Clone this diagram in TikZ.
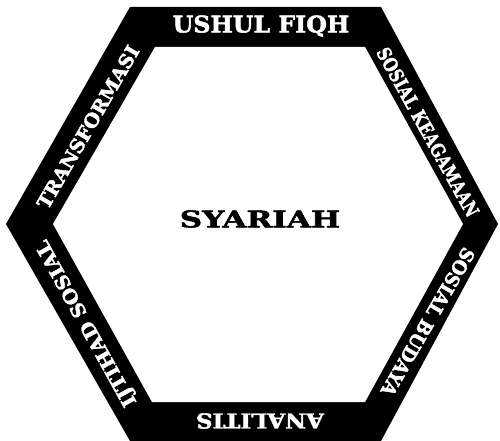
\documentclass[tikz,border=0pt]{standalone}
\usepackage{fontspec}
\newfontfamily\hexfont{DejaVu Serif Bold}[FakeBold=2]
\newfontfamily\hexcond{DejaVu Serif Condensed Bold}[FakeBold=2]
\begin{document}
\begin{tikzpicture}[x=1pt,y=-1pt,
  band/.style={font=\hexcond\fontsize{19}{19}\selectfont, text=white, inner sep=0pt, anchor=center},
  toptext/.style={font=\hexfont\fontsize{23}{23}\selectfont, text=white, inner sep=0pt, anchor=center}]
\useasboundingbox (0,0) rectangle (500,441);
\fill[white] (0,0) rectangle (500,441);
\fill[black] (130,7) -- (381,7) -- (498,224) -- (381,441) -- (130,441) -- (6,224) -- cycle;
\fill[white] (155,47) -- (365,47) -- (463,224) -- (365,402) -- (152,402) -- (53,224) -- cycle;
\node[toptext, xscale=1.03] (top) at (261,26) {USHUL FIQH};
\node[band, rotate=-61, xscale=0.91] (tr) at (428,132) {SOSIAL KEAGAMAAN};
\node[band, rotate=-120, xscale=1.05] (br) at (428,322) {SOSIAL BUDAYA};
\node[toptext, font=\hexfont\fontsize{20.5}{20.5}\selectfont, rotate=180, xscale=1.12] (bot) at (260,421) {ANALITIS};
\node[band, rotate=119, xscale=1.17] (bl) at (87,323) {IJTIHAD SOSIAL};
\node[band, rotate=60, xscale=1.14] (tl) at (88,127) {TRANSFORMASI};
\node[font=\hexfont\fontsize{23}{23}\selectfont, inner sep=0pt, xscale=1.35] (center) at (260,219) {SYARIAH};
\end{tikzpicture}
\end{document}
